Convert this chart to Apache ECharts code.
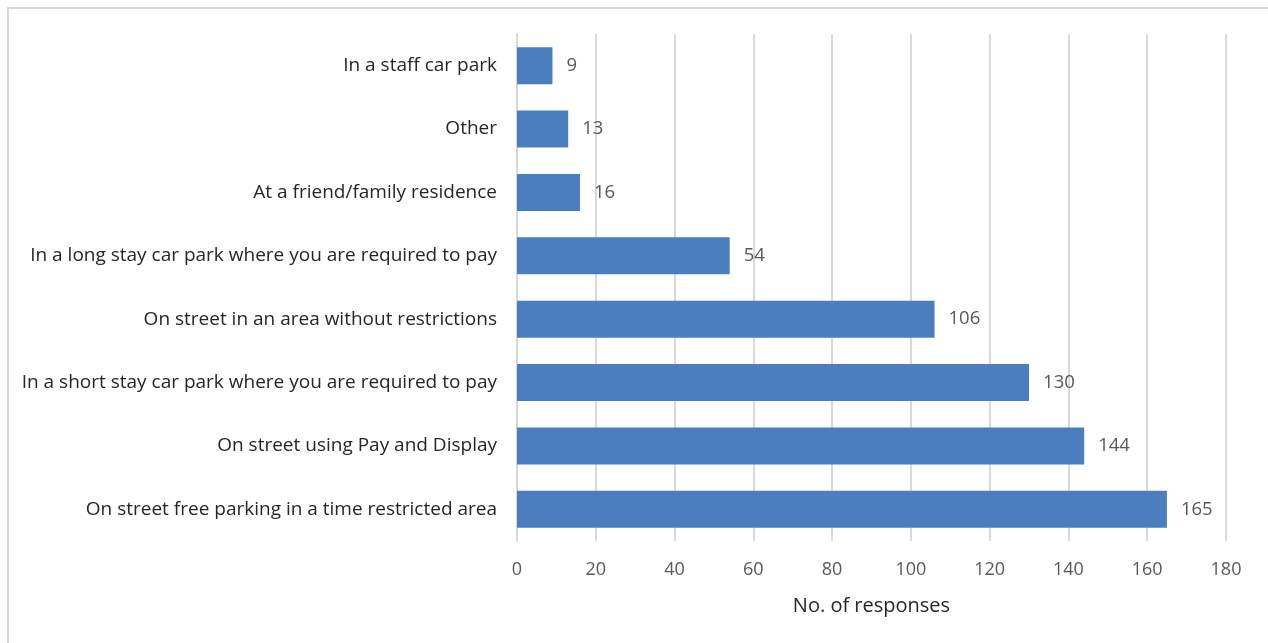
<!DOCTYPE html>
<html><head><meta charset="utf-8">
<script src="https://cdn.jsdelivr.net/npm/echarts@6/dist/echarts.min.js"></script>
<style>html,body{margin:0;padding:0;background:#fff}#c{width:1268px;height:643px}</style>
</head><body><div id="c"></div>
<script>
const categories = [
  "On street free parking in a time restricted area",
  "On street using Pay and Display",
  "In a short stay car park where you are required to pay",
  "On street in an area without restrictions",
  "In a long stay car park where you are required to pay",
  "At a friend/family residence",
  "Other",
  "In a staff car park"
];
const values = [165, 144, 130, 106, 54, 16, 13, 9];
const xTicks = { min: 0, max: 180, interval: 20 };
const xName = "No. of responses";

const chart = echarts.init(document.getElementById('c'));
const font = "'Open Sans', sans-serif";
chart.setOption({
  animation: false,
  graphic: [{ type: 'rect', shape: { x: 8, y: 8, width: 1400, height: 800 }, style: { fill: 'none', stroke: '#d9d9d9', lineWidth: 2 } }],
  grid: { left: 517, right: 42, top: 34, bottom: 102 },
  xAxis: {
    type: 'value', min: xTicks.min, max: xTicks.max, interval: xTicks.interval,
    name: xName, nameLocation: 'middle', nameGap: 55,
    nameTextStyle: { color: '#262626', fontSize: 20, fontFamily: font },
    axisLine: { show: false }, axisTick: { show: false },
    axisLabel: { color: '#595959', fontSize: 18, fontFamily: font, margin: 20 },
    splitLine: { show: true, lineStyle: { color: '#d9d9d9', width: 2 } }
  },
  yAxis: {
    type: 'category', data: categories,
    axisLine: { show: true, lineStyle: { color: '#d9d9d9', width: 2 } },
    axisTick: { show: false },
    axisLabel: { color: '#262626', fontSize: 19, fontFamily: font, margin: 20 }
  },
  series: [{
    type: 'bar', data: values, barWidth: 37,
    itemStyle: { color: '#4A7EBE' },
    label: { show: true, position: 'right', distance: 14, color: '#595959', fontSize: 18.5, fontFamily: font }
  }]
});
</script></body></html>
